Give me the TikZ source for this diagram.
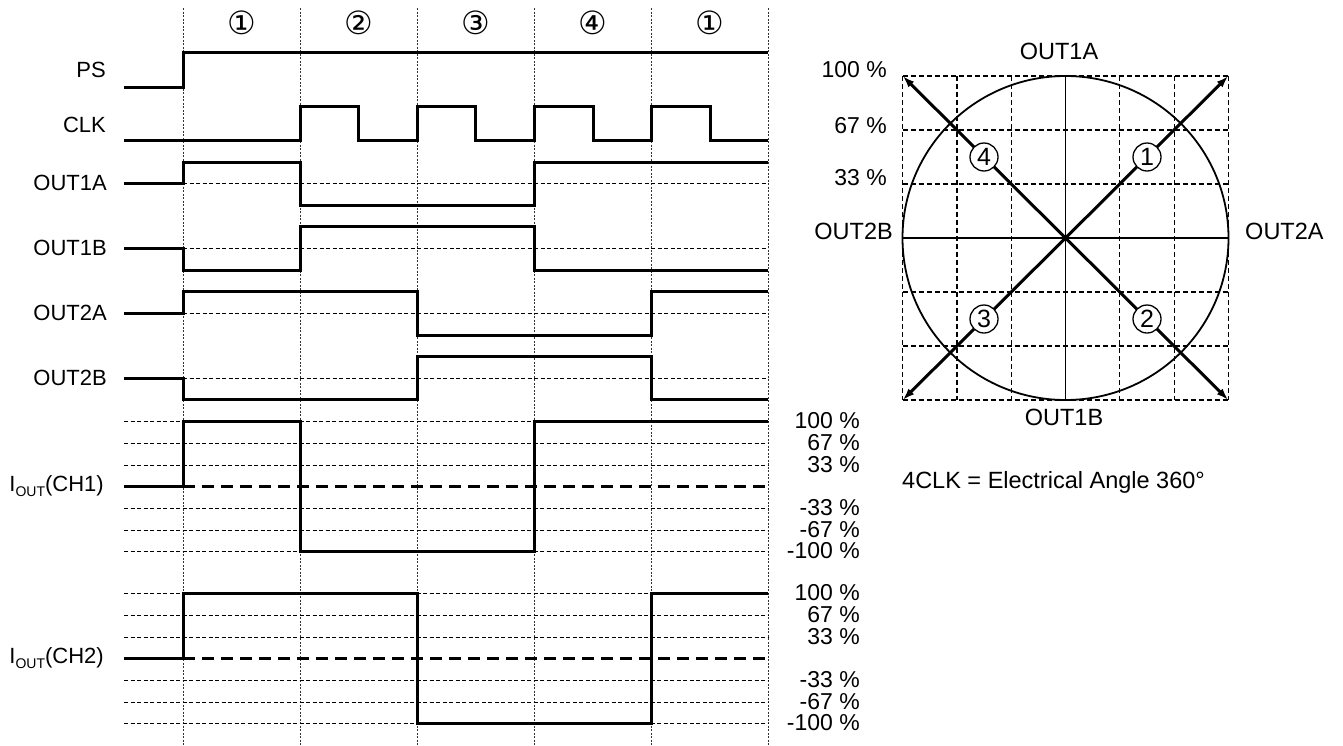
\documentclass[tikz,border=0pt]{standalone}
\usepackage{fontspec}
\setmainfont{Liberation Sans}
\newfontfamily\circfont{DejaVu Sans}
\usetikzlibrary{arrows.meta}

\tikzset{
  wave/.style={line width=3pt, line join=miter},
  guide/.style={line width=0.6pt, dash pattern=on 2pt off 1.5pt, black!80},
  level/.style={line width=0.9pt, dash pattern=on 4pt off 2.5pt},
  zero/.style={line width=3pt, dash pattern=on 12pt off 7pt},
  lbl/.style={font=\fontsize{22}{24}\selectfont, inner sep=0pt},
  big/.style={font=\fontsize{23.5}{25}\selectfont, inner sep=0pt},
  pct/.style={font=\fontsize{23}{25}\selectfont, inner sep=0pt, anchor=east},
  gridline/.style={line width=1.1pt, dash pattern=on 5pt off 3pt},
  num/.style={circle, draw, line width=1.3pt, fill=white, minimum size=28pt, inner sep=0pt, font=\fontsize{25}{25}\selectfont},
  tip/.tip={Latex[length=12pt,width=8pt]},
}

\begin{document}
\begin{tikzpicture}[x=1pt,y=-1pt]
\useasboundingbox (0,0) rectangle (1343,745);

% phase marks
\foreach \x in {183,300,417,534,651,768} \draw[guide] (\x,8) -- (\x,745);
\node[lbl, font=\fontsize{32}{32}\circfont] (ph1) at (242,23) {①};
\node[lbl, font=\fontsize{32}{32}\circfont] (ph2) at (359,23) {②};
\node[lbl, font=\fontsize{32}{32}\circfont] (ph3) at (476,23) {③};
\node[lbl, font=\fontsize{32}{32}\circfont] (ph4) at (593,23) {④};
\node[lbl, font=\fontsize{32}{32}\circfont] (ph5) at (710,23) {①};

% signal names
\node[lbl, anchor=east] (ps) at (106,70) {PS};
\node[lbl, anchor=east] (clk) at (106,125) {CLK};
\node[lbl, anchor=east] (o1a) at (107,183) {OUT1A};
\node[lbl, anchor=east] (o1b) at (107,248) {OUT1B};
\node[lbl, anchor=east] (o2a) at (107,313) {OUT2A};
\node[lbl, anchor=east] (o2b) at (107,378) {OUT2B};
\node[lbl, anchor=east] (ch1) at (104,486) {I\raisebox{-0.25em}{\fontsize{14}{14}\selectfont OUT}(CH1)};
\node[lbl, anchor=east] (ch2) at (104,658) {I\raisebox{-0.25em}{\fontsize{14}{14}\selectfont OUT}(CH2)};

% PS and CLK
\draw[wave] (124,87) -- (183,87) -- (183,52) -- (768,52);
\draw[wave] (124,140) -- (300,140) -- (300,106) -- (358,106) -- (358,140) -- (417,140)
  -- (417,106) -- (475,106) -- (475,140) -- (534,140) -- (534,106) -- (593,106)
  -- (593,140) -- (651,140) -- (651,106) -- (710,106) -- (710,140) -- (768,140);

% phase outputs
\foreach \y in {183,248,313,378} \draw[level] (183,\y) -- (768,\y);
\draw[wave] (124,183) -- (183,183) -- (183,162) -- (300,162) -- (300,205) -- (534,205) -- (534,162) -- (768,162);
\draw[wave] (124,248) -- (183,248) -- (183,270) -- (300,270) -- (300,226) -- (534,226) -- (534,270) -- (768,270);
\draw[wave] (124,313) -- (183,313) -- (183,291) -- (417,291) -- (417,335) -- (651,335) -- (651,291) -- (768,291);
\draw[wave] (124,378) -- (183,378) -- (183,399) -- (417,399) -- (417,356) -- (651,356) -- (651,399) -- (768,399);

% output current CH1
\foreach \y in {421,443,465,508,530,551} \draw[level] (124,\y) -- (768,\y);
\draw[wave] (124,486) -- (183,486);
\draw[zero] (183,486) -- (768,486);
\draw[wave] (183,486) -- (183,421) -- (300,421) -- (300,551) -- (534,551) -- (534,421) -- (768,421);
\node[pct] (a100) at (860,421) {100 \%};
\node[pct] (a67) at (860,443) {67 \%};
\node[pct] (a33) at (860,465) {33 \%};
\node[pct] (am33) at (860,508) {-33 \%};
\node[pct] (am67) at (860,530) {-67 \%};
\node[pct] (am100) at (860,551) {-100 \%};

% output current CH2
\foreach \y in {593,615,637,680,702,723} \draw[level] (124,\y) -- (768,\y);
\draw[wave] (124,658) -- (183,658);
\draw[zero] (183,658) -- (768,658);
\draw[wave] (183,658) -- (183,593) -- (417,593) -- (417,723) -- (651,723) -- (651,593) -- (768,593);
\node[pct] (b100) at (860,593) {100 \%};
\node[pct] (b67) at (860,615) {67 \%};
\node[pct] (b33) at (860,637) {33 \%};
\node[pct] (bm33) at (860,680) {-33 \%};
\node[pct] (bm67) at (860,702) {-67 \%};
\node[pct] (bm100) at (860,723) {-100 \%};

% vector diagram
\coordinate (o) at (1065.5,238);
\coordinate (nw) at (902.7,76);
\coordinate (ne) at (1228.3,76);
\coordinate (sw) at (902.7,400);
\coordinate (se) at (1228.3,400);
\foreach \i in {0,1,2,4,5,6} {
  \draw[gridline] (902.7+\i*54.27,76) -- (902.7+\i*54.27,400);
  \draw[gridline] (902.7,76+\i*54) -- (1228.3,76+\i*54);
}
\draw[line width=1.8pt] (o) ellipse [x radius=163, y radius=162];
\draw[line width=1.7pt] (1065.5,76) -- (1065.5,400);
\draw[line width=1.7pt] (902.7,238) -- (1228.3,238);
\draw[line width=3pt, tip-tip] (sw) -- (ne);
\draw[line width=3pt, tip-tip] (nw) -- (se);
\node[num] (v1) at (1147,157) {1};
\node[num] (v2) at (1147,319) {2};
\node[num] (v3) at (984,319) {3};
\node[num] (v4) at (984,157) {4};
\node[big] (top) at (1059,51) {OUT1A};
\node[big] (bot) at (1064,417) {OUT1B};
\node[big, anchor=east] (left) at (893,231) {OUT2B};
\node[big, anchor=west] (right) at (1245,231) {OUT2A};
\node[pct] (g100) at (887,70) {100 \%};
\node[pct] (g67) at (887,126) {67 \%};
\node[pct] (g33) at (887,178) {33 \%};
\node[big, anchor=west] (note) at (902,482) {4CLK = Electrical Angle 360°};
\end{tikzpicture}
\end{document}
